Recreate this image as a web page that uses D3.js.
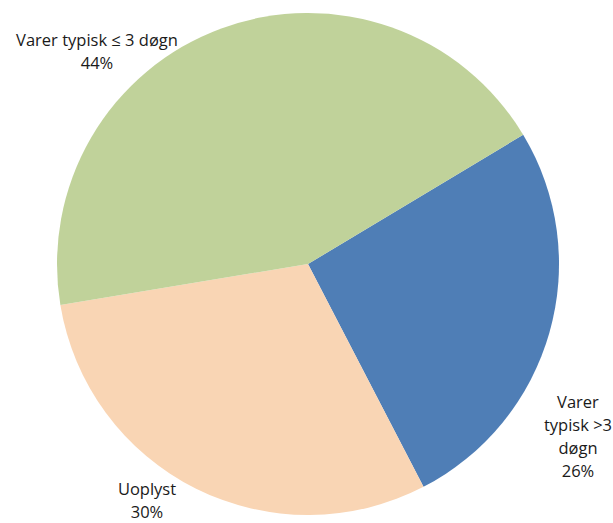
<!DOCTYPE html>
<html>
<head>
<meta charset="utf-8">
<script src="https://cdn.jsdelivr.net/npm/d3@7"></script>
<style>
  body { margin: 0; background: #fff; }
  text { font-family: "Open Sans", "Noto Sans", sans-serif; font-size: 16.5px; fill: #1a1a1a; }
</style>
</head>
<body>
<div id="chart"></div>
<script>
// data
const categories = ["Varer typisk >3 døgn", "Uoplyst", "Varer typisk ≤ 3 døgn"];
const shares = [26, 30, 44];
const labelLines = [["Varer", "typisk >3", "døgn"], ["Uoplyst"], ["Varer typisk ≤ 3 døgn"]];
const colors = ["#4F7EB6", "#F9D5B4", "#C0D29A"];

// layout
const width = 613, height = 523;
const cx = 308, cy = 264, radius = 251;
const startDeg = 59;
const labelAt = [[578, 408], [147, 495], [97, 46]];
const lineH = 23;

const svg = d3.select("#chart").append("svg")
  .attr("width", width)
  .attr("height", height);

const pie = d3.pie()
  .sort(null)
  .value(d => d)
  .startAngle(startDeg * Math.PI / 180)
  .endAngle((startDeg + 360) * Math.PI / 180);

const arc = d3.arc().innerRadius(0).outerRadius(radius);

const g = svg.append("g").attr("transform", `translate(${cx},${cy})`);

g.selectAll("path")
  .data(pie(shares))
  .join("path")
  .attr("d", arc)
  .attr("fill", (d, i) => colors[i]);

const labels = svg.selectAll("text.lbl")
  .data(shares)
  .join("text")
  .attr("class", "lbl")
  .attr("text-anchor", "middle")
  .attr("x", (d, i) => labelAt[i][0])
  .attr("y", (d, i) => labelAt[i][1]);

labels.each(function(d, i) {
  const t = d3.select(this);
  const lines = labelLines[i].concat([d + "%"]);
  lines.forEach((s, k) => {
    t.append("tspan")
      .attr("x", labelAt[i][0])
      .attr("dy", k === 0 ? 0 : lineH)
      .text(s);
  });
});
</script>
</body>
</html>
